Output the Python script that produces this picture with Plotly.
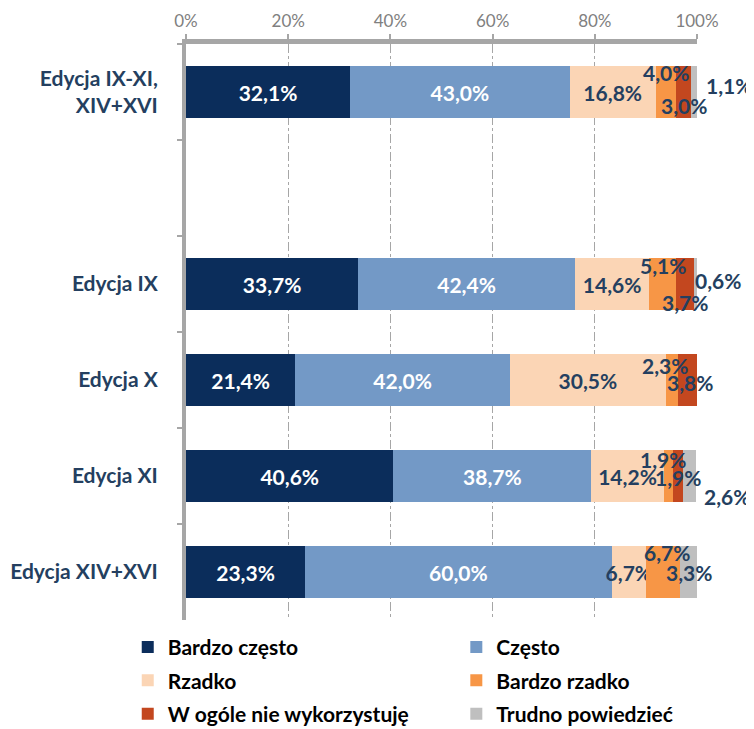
import plotly.graph_objects as go

categories = ["Edycja IX-XI,<br>XIV+XVI", " ", "Edycja IX", "Edycja X", "Edycja XI", "Edycja XIV+XVI"]
series_names = ["Bardzo często", "Często", "Rzadko", "Bardzo rzadko", "W ogóle nie wykorzystuję", "Trudno powiedzieć"]
bardzo_czesto = [32.1, None, 33.7, 21.4, 40.6, 23.3]
czesto = [43.0, None, 42.4, 42.0, 38.7, 60.0]
rzadko = [16.8, None, 14.6, 30.5, 14.2, 6.7]
bardzo_rzadko = [4.0, None, 5.1, 2.3, 1.9, 6.7]
w_ogole_nie = [3.0, None, 3.7, 3.8, 1.9, 0]
trudno = [1.1, None, 0.6, 0, 2.6, 3.3]
tick_vals = [0, 20, 40, 60, 80, 100]

series = [bardzo_czesto, czesto, rzadko, bardzo_rzadko, w_ogole_nie, trudno]
colors = ["#0B2D5B", "#7399C6", "#FBD5B5", "#F79646", "#C3471F", "#BFBFBF"]
label_colors = ["white", "white", "#243F60", "#243F60", "#243F60", "#243F60"]
legend_ids = ["legend", "legend2", "legend", "legend2", "legend", "legend2"]
# pixel shifts (xshift, yshift) for labels of small segments, per series per row
shifts = {
    3: [(0, 20), None, (0, 19), (-7, 15), (-6, 17), (4, 20)],
    4: [(0, -13), None, (0, -18), (3, -2), (0, -1), None],
    5: [(35, 7), None, (22, 4), None, (37, -20), (0, 0)],
}

FONT = "Lato"
NAVY = "#243F60"
FS = 21


def fmt(v):
    return ("%.1f" % v).replace(".", ",") + "%"


fig = go.Figure()
for i, (name, vals) in enumerate(zip(series_names, series)):
    texts = []
    for v in vals:
        if v is None or i >= 3 or v == 0:
            texts.append("")
        else:
            texts.append(fmt(v))
    fig.add_trace(go.Bar(
        y=categories, x=vals, name=name, orientation="h",
        marker=dict(color=colors[i], line=dict(width=0)),
        text=texts, textposition="inside", insidetextanchor="middle",
        textangle=0, constraintext="none",
        textfont=dict(color=label_colors[i], size=FS, family=FONT, weight="bold"),
        hoverinfo="skip", legend=legend_ids[i], legendgroup=f"g{i}",
    ))

annotations = []
for i in (3, 4, 5):
    for r, cat in enumerate(categories):
        v = series[i][r]
        if v is None or v == 0 or shifts[i][r] is None:
            continue
        start = sum(series[k][r] for k in range(i))
        xc = start + v / 2
        xs, ys = shifts[i][r]
        annotations.append(dict(
            x=xc, y=cat, xref="x", yref="y", text=fmt(v), showarrow=False,
            xshift=xs, yshift=ys,
            font=dict(color=NAVY, size=FS, family=FONT, weight="bold"),
        ))

legend_common = dict(
    orientation="v", yanchor="top", y=-0.012, xanchor="left",
    font=dict(size=FS, color="black", family=FONT, weight="bold"),
    traceorder="grouped", itemwidth=30, bgcolor="rgba(0,0,0,0)",
    tracegroupgap=3,
)

fig.update_layout(
    barmode="stack",
    bargap=0.46,
    width=746, height=721,
    margin=dict(l=178, r=57, t=36, b=109, autoexpand=False),
    plot_bgcolor="white", paper_bgcolor="white",
    font=dict(family=FONT),
    annotations=annotations,
    showlegend=True,
    uniformtext=dict(minsize=FS, mode="show"),
    legend=dict(x=-0.114, **legend_common),
    legend2=dict(x=0.529, **legend_common),
    xaxis=dict(
        side="top", range=[0, 100], tickvals=tick_vals,
        ticktext=[f"{t}%" for t in tick_vals],
        tickfont=dict(size=17, color="#808080", family=FONT),
        showline=True, linecolor="#A6A6A6", linewidth=5,
        ticks="outside", ticklen=5, tickcolor="#A6A6A6", tickwidth=2,
        showgrid=True, gridcolor="#A6A6A6", gridwidth=1, griddash="dashdot",
        zeroline=False, fixedrange=True, automargin=False,
    ),
    yaxis=dict(
        categoryorder="array", categoryarray=categories, autorange="reversed",
        tickfont=dict(size=FS, color=NAVY, family=FONT, weight="bold"),
        showline=True, linecolor="#A6A6A6", linewidth=4,
        ticks="outside", tickson="boundaries", ticklen=5, tickcolor="#A6A6A6", tickwidth=2,
        showgrid=False, zeroline=False, ticklabelstandoff=20, automargin=False,
    ),
)

fig.write_html("out.html")
